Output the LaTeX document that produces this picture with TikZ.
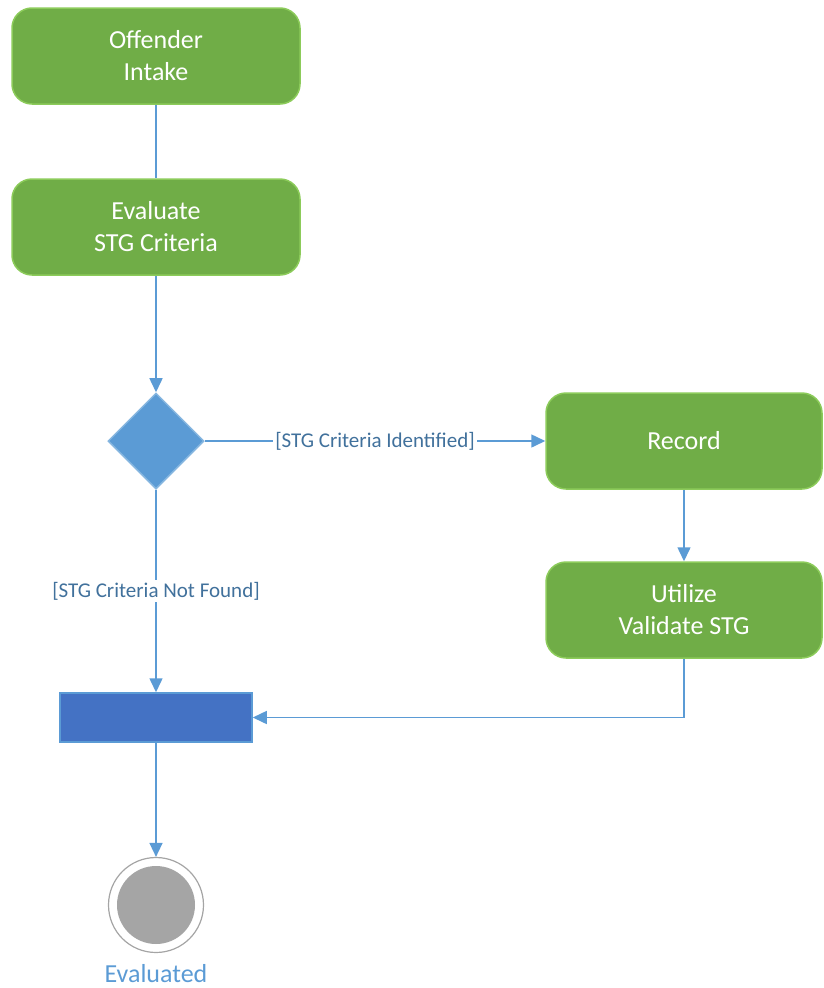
\documentclass[tikz,border=0pt]{standalone}
\usepackage{fontspec}
\setmainfont{Carlito}
\usetikzlibrary{arrows.meta,shapes.geometric}

\definecolor{actgreen}{HTML}{70AD47}
\definecolor{actedge}{HTML}{8CCB5A}
\definecolor{flowblue}{HTML}{5B9BD5}
\definecolor{decedge}{HTML}{86B6E0}
\definecolor{barblue}{HTML}{4472C4}
\definecolor{guardblue}{HTML}{41719C}
\definecolor{endgray}{HTML}{A5A5A5}

\begin{document}
\begin{tikzpicture}[x=1pt, y=-1pt,
    action/.style={draw=actedge, line width=1.5pt, fill=actgreen, rounded corners=20pt,
      minimum width=288pt, minimum height=96pt, text=white, align=center,
      font=\fontsize{26}{32}\selectfont},
    decision/.style={diamond, draw=decedge, line width=1.5pt, fill=flowblue,
      minimum width=96pt, minimum height=96pt, inner sep=0pt},
    joinbar/.style={draw=flowblue, line width=1.5pt, fill=barblue,
      minimum width=192pt, minimum height=49pt, inner sep=0pt},
    flow/.style={draw=flowblue, line width=1.5pt, -{Triangle[length=14pt,width=13pt]}},
    guard/.style={fill=white, text=guardblue, inner sep=2pt,
      font=\fontsize{21}{25}\selectfont}]
  \useasboundingbox (0,0) rectangle (824,988);

  \node[action] (intake) at (156,56) {Offender\\Intake};
  \node[action] (eval) at (156,227) {Evaluate\\STG Criteria};
  \node[decision] (dec) at (156,441) {};
  \node[action, minimum width=276pt] (rec) at (684,441) {Record};
  \node[action, minimum width=276pt] (util) at (684,610) {Utilize\\Validate STG};
  \node[joinbar] (join) at (156,717.5) {};
  \node[circle, draw=endgray, line width=1.2pt, fill=white, minimum size=95pt] (end) at (156,905) {};
  \fill[endgray] (end.center) circle (39pt);
  \node[text=flowblue, font=\fontsize{26}{32}\selectfont] (endlabel) at (156,974) {Evaluated};

  \draw[flowblue, line width=1.5pt] (intake) -- (eval);
  \draw[flow] (eval) -- (dec);
  \draw[flow] (dec) -- node[guard] {[STG Criteria Identified]} (rec);
  \draw[flow] (dec) -- node[guard] {[STG Criteria Not Found]} (join);
  \draw[flow] (rec) -- (util);
  \draw[flow] (util.south) |- (join.east);
  \draw[flow] (join) -- (end);
\end{tikzpicture}
\end{document}
